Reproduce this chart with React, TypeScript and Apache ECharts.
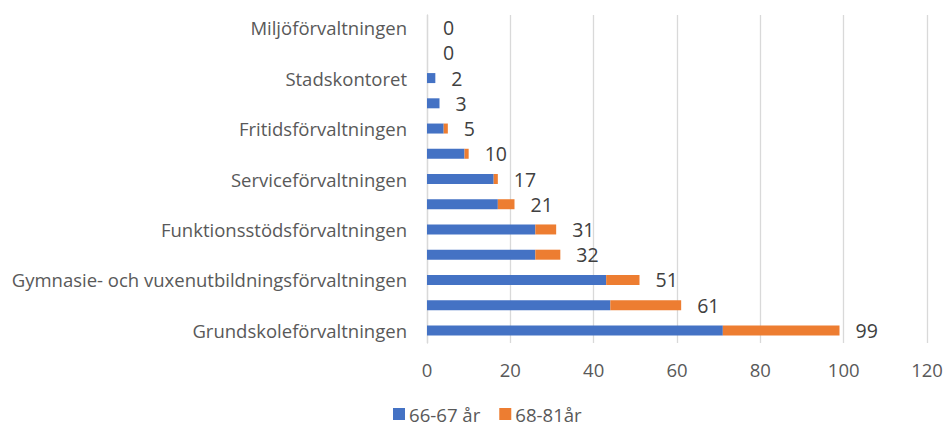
import React, { useEffect, useRef } from "react";
import * as echarts from "echarts";

const categories = [
  "Grundskoleförvaltningen",
  "Förvaltning 2",
  "Gymnasie- och vuxenutbildningsförvaltningen",
  "Förvaltning 4",
  "Funktionsstödsförvaltningen",
  "Förvaltning 6",
  "Serviceförvaltningen",
  "Förvaltning 8",
  "Fritidsförvaltningen",
  "Förvaltning 10",
  "Stadskontoret",
  "Förvaltning 12",
  "Miljöförvaltningen",
];
const age6667 = [71, 44, 43, 26, 26, 17, 16, 9, 4, 3, 2, 0, 0];
const age6881 = [28, 17, 8, 6, 5, 4, 1, 1, 1, 0, 0, 0, 0];
const totals = [99, 61, 51, 32, 31, 21, 17, 10, 5, 3, 2, 0, 0];
const xTicks = [0, 20, 40, 60, 80, 100, 120];

const FONT = "'Open Sans', sans-serif";

if (typeof document !== "undefined") {
  document.body.style.margin = "0";
}

export default function App() {
  const ref = useRef<HTMLDivElement>(null);
  useEffect(() => {
    if (!ref.current) return;
    const chart = echarts.init(ref.current, null, { renderer: "svg" });
    chart.setOption({
      animation: false,
      textStyle: { fontFamily: FONT },
      grid: { left: 427, width: 500, top: 15, height: 328, containLabel: false },
      legend: {
        top: 404,
        left: 393,
        padding: 0,
        itemWidth: 12,
        itemHeight: 12,
        itemGap: 19,
        icon: "rect",
        textStyle: {
          fontSize: 18.6,
          lineHeight: 20,
          color: "#595959",
          fontFamily: FONT,
          padding: [0, 0, 0, -1],
        },
        data: ["66-67 år", "68-81år"],
      },
      xAxis: {
        type: "value",
        min: xTicks[0],
        max: xTicks[xTicks.length - 1],
        interval: 20,
        axisLine: { show: false },
        axisTick: { show: false },
        splitLine: { lineStyle: { color: "#d9d9d9", width: 1.3 } },
        axisLabel: { fontSize: 18.5, color: "#595959", margin: 17, fontFamily: FONT },
      },
      yAxis: {
        type: "category",
        data: categories,
        axisLine: { show: true, lineStyle: { color: "#d9d9d9", width: 1.3 } },
        axisTick: { show: false },
        axisLabel: {
          interval: 1,
          fontSize: 18.5,
          color: "#595959",
          margin: 20,
          fontFamily: FONT,
        },
      },
      series: [
        {
          name: "66-67 år",
          type: "bar",
          stack: "total",
          barWidth: 10,
          itemStyle: { color: "#4472c4" },
          data: age6667,
        },
        {
          name: "68-81år",
          type: "bar",
          stack: "total",
          barWidth: 10,
          itemStyle: { color: "#ed7d31" },
          data: age6881,
          label: {
            show: true,
            position: "right",
            distance: 16,
            fontSize: 19.5,
            color: "#404040",
            fontFamily: FONT,
            formatter: (p: any) => String(totals[p.dataIndex]),
          },
        },
      ],
    });
    return () => chart.dispose();
  }, []);
  return <div ref={ref} style={{ width: 946, height: 429 }} />;
}
